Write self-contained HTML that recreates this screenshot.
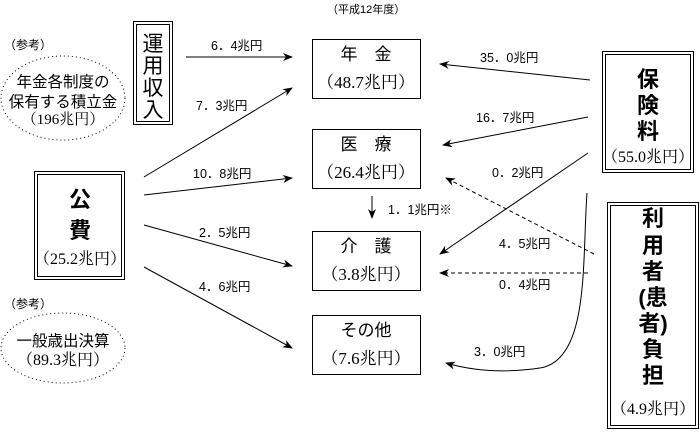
<!DOCTYPE html>
<html><head><meta charset="utf-8"><style>
html,body{margin:0;padding:0;background:#fff;}
svg{display:block;}
.g{font-family:"Liberation Sans","Noto Sans CJK JP",sans-serif;}
.s{font-family:"Liberation Serif","Noto Serif CJK SC",serif;}
</style></head><body>
<svg width="700" height="433" viewBox="0 0 700 433" xmlns="http://www.w3.org/2000/svg">
<defs>
<marker id="a" markerWidth="10" markerHeight="8" refX="9" refY="4" orient="auto" markerUnits="userSpaceOnUse">
<path d="M0,0 L10,4 L0,8 L3,4 Z" fill="#000"/></marker>
</defs>
<g fill="none" stroke="#000" stroke-width="1">
<rect x="312.5" y="39.5" width="108" height="59"/>
<rect x="312.5" y="129.5" width="108" height="59"/>
<rect x="312.5" y="231.5" width="108" height="59"/>
<rect x="312.5" y="315.5" width="108" height="59"/>
<rect x="133.5" y="21.5" width="39" height="103"/><rect x="136.5" y="24.5" width="33" height="97"/>
<rect x="34.5" y="171.5" width="90" height="108"/><rect x="37.5" y="174.5" width="84" height="102"/>
<rect x="602.5" y="51.5" width="91" height="121"/><rect x="605.5" y="54.5" width="85" height="115"/>
<rect x="607.5" y="202.5" width="91" height="226"/><rect x="610.5" y="205.5" width="85" height="220"/>
<ellipse cx="63" cy="98" rx="62" ry="42" stroke-dasharray="1,3"/>
<ellipse cx="63" cy="348" rx="62" ry="35" stroke-dasharray="1,3"/>
<line x1="186" y1="57" x2="292" y2="57" marker-end="url(#a)"/>
<line x1="144" y1="177" x2="292" y2="88" marker-end="url(#a)"/>
<line x1="144" y1="195" x2="292" y2="178" marker-end="url(#a)"/>
<line x1="144" y1="225" x2="292" y2="266" marker-end="url(#a)"/>
<line x1="144" y1="267" x2="292" y2="348" marker-end="url(#a)"/>
<line x1="590" y1="80" x2="440" y2="64" marker-end="url(#a)"/>
<line x1="588" y1="117" x2="443" y2="145" marker-end="url(#a)"/>
<line x1="588" y1="153" x2="440" y2="254" marker-end="url(#a)"/>
<line x1="594" y1="254" x2="446" y2="178" stroke-dasharray="4,3" marker-end="url(#a)"/>
<line x1="588" y1="273" x2="440" y2="273" stroke-dasharray="4,3" marker-end="url(#a)"/>
<path d="M587,193 C582,260 590,360 540,368 C500,374 470,370 446,363" marker-end="url(#a)"/>
<line x1="372" y1="196" x2="372" y2="218" marker-end="url(#a)"/>
</g>
<g class="g" font-size="12.5" fill="#000">
<text x="327" y="13" font-size="11">（平成12年度）</text>
<text x="4" y="49" font-size="12">（参考）</text>
<text x="4" y="308" font-size="12">（参考）</text>
<text x="211" y="50">6．4兆円</text>
<text x="196" y="110">7．3兆円</text>
<text x="193" y="178">10．8兆円</text>
<text x="199" y="237">2．5兆円</text>
<text x="199" y="291">4．6兆円</text>
<text x="480" y="62">35．0兆円</text>
<text x="476" y="122">16．7兆円</text>
<text x="492" y="177">0．2兆円</text>
<text x="388" y="214">1．1兆円※</text>
<text x="499" y="248">4．5兆円</text>
<text x="499" y="289">0．4兆円</text>
<text x="474" y="356">3．0兆円</text>
</g>
<g class="g" font-size="15.5" fill="#000" text-anchor="middle">
<text x="63" y="87">年金各制度の</text>
<text x="63" y="107">保有する積立金</text>
<text x="63" y="124" class="s" font-size="15">（196兆円）</text>
<text x="63" y="346">一般歳出決算</text>
<text x="63" y="365" class="s" font-size="16">（89.3兆円）</text>
<text x="153" y="51" font-size="21">運</text>
<text x="153" y="73" font-size="21">用</text>
<text x="153" y="95" font-size="21">収</text>
<text x="153" y="117" font-size="21">入</text>
<text x="366" y="60" font-size="17">年　金</text>
<text x="366" y="88" class="s" font-size="17">（48.7兆円）</text>
<text x="366" y="150" font-size="17">医　療</text>
<text x="366" y="178" class="s" font-size="17">（26.4兆円）</text>
<text x="366" y="252" font-size="17">介　護</text>
<text x="366" y="280" class="s" font-size="17">（3.8兆円）</text>
<text x="366" y="336" font-size="17">その他</text>
<text x="366" y="364" class="s" font-size="17">（7.6兆円）</text>
<text x="80" y="207" font-size="22" font-weight="bold">公</text>
<text x="80" y="238" font-size="22" font-weight="bold">費</text>
<text x="80" y="264" class="s" font-size="16">（25.2兆円）</text>
<text x="648" y="87" font-size="22" font-weight="bold">保</text>
<text x="648" y="113" font-size="22" font-weight="bold">険</text>
<text x="648" y="139" font-size="22" font-weight="bold">料</text>
<text x="648" y="162" class="s" font-size="16">（55.0兆円）</text>
<text x="653" y="226" font-size="22" font-weight="bold">利</text>
<text x="653" y="253" font-size="22" font-weight="bold">用</text>
<text x="653" y="279" font-size="22" font-weight="bold">者</text>
<text x="653" y="305" font-size="22" font-weight="bold">(患</text>
<text x="653" y="331" font-size="22" font-weight="bold">者)</text>
<text x="653" y="357" font-size="22" font-weight="bold">負</text>
<text x="653" y="383" font-size="22" font-weight="bold">担</text>
<text x="653" y="414" class="s" font-size="16">（4.9兆円）</text>
</g>
</svg>
</body></html>
